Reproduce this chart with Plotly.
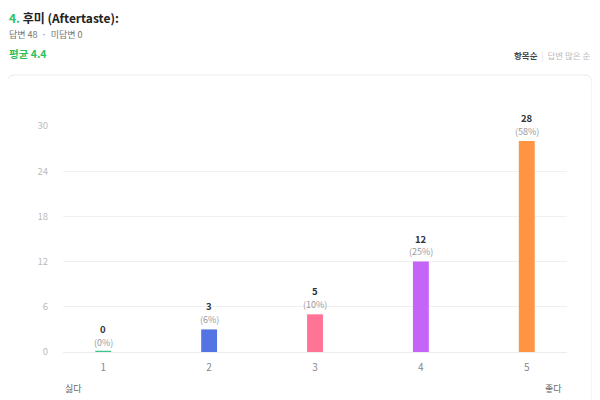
import plotly.graph_objects as go

scores = [1, 2, 3, 4, 5]
counts = [0, 3, 5, 12, 28]
colors = ['#3fc48c', '#5574e4', '#ff7396', '#c565f7', '#ff9443']
y_ticks = [0, 6, 12, 18, 24, 30]
total = 48
n_missing = 0
average = 4.4

FONT = 'Noto Sans CJK KR'

# page shows the figure 8px in from the top-left corner
OFF = 8
# plot area in page pixels: x 63..567, y 126..352
L, R, T, B = 63, 567, 126, 352


def px(p):
    return (p - L) / (R - L)


def py(p):
    return (B - p) / (B - T)


pct = [round(c / total * 100) for c in counts]

fig = go.Figure()
fig.add_trace(go.Bar(
    x=scores, y=counts, width=0.15,
    marker=dict(color=colors, line=dict(width=0)),
    hoverinfo='skip', cliponaxis=False,
))

# zero answers still get a thin stub on the baseline
for s, c, col in zip(scores, counts, colors):
    if c == 0:
        fig.add_shape(type='line', x0=s - 0.075, x1=s + 0.075, y0=0, y1=0,
                      line=dict(color=col, width=2.5), layer='above')

# value labels above the bars
for s, c, p in zip(scores, counts, pct):
    fig.add_annotation(x=s, y=c, text='<b>%d</b>' % c, showarrow=False, borderpad=0,
                       yanchor='middle', yshift=23, font=dict(size=9.5, color='#333', family=FONT))
    fig.add_annotation(x=s, y=c, text='(%d%%)' % p, showarrow=False, borderpad=0,
                       yanchor='middle', yshift=10, font=dict(size=9, color='#999', family=FONT))

# header
fig.add_annotation(xref='paper', yref='paper', x=px(7), y=py(17), xanchor='left', yanchor='middle',
                   text="<span style='color:#2cc35f'>4.</span> 후미 (Aftertaste):", showarrow=False,
                   font=dict(size=12, color='#222', family=FONT, weight='bold'))
fig.add_annotation(xref='paper', yref='paper', x=px(7), y=py(34), xanchor='left', yanchor='middle',
                   text='답변 %d  ·  미답변 %d' % (total, n_missing), showarrow=False,
                   font=dict(size=9, color='#777', family=FONT))
fig.add_annotation(xref='paper', yref='paper', x=px(7), y=py(53), xanchor='left', yanchor='middle',
                   text='<b>평균 %.1f</b>' % average, showarrow=False,
                   font=dict(size=10.5, color='#2cc35f', family=FONT))
fig.add_annotation(xref='paper', yref='paper', x=px(592), y=py(55), xanchor='right', yanchor='middle',
                   text="<b>항목순</b>  <span style='color:#ddd'>|</span>  <span style='color:#bbb'>답변 많은 순</span>",
                   showarrow=False, font=dict(size=8.5, color='#444', family=FONT))

# axis end labels
fig.add_annotation(xref='paper', yref='paper', x=px(73), y=py(388), xanchor='center', yanchor='middle',
                   text='싫다', showarrow=False, font=dict(size=9, color='#666', family=FONT))
fig.add_annotation(xref='paper', yref='paper', x=px(553), y=py(388), xanchor='center', yanchor='middle',
                   text='좋다', showarrow=False, font=dict(size=9, color='#666', family=FONT))

# card background with rounded corners
x0, x1, y0, y1, r = 7, 592, 75, 420, 8
rx, ry = r / (R - L), r / (B - T)
path = ('M %f,%f L %f,%f Q %f,%f %f,%f L %f,%f Q %f,%f %f,%f L %f,%f Z'
        % (px(x0), py(y1), px(x0), py(y0) - ry, px(x0), py(y0), px(x0) + rx, py(y0),
           px(x1) - rx, py(y0), px(x1), py(y0), px(x1), py(y0) - ry, px(x1), py(y1)))
fig.add_shape(type='path', xref='paper', yref='paper', path=path,
              line=dict(color='#ececec', width=1), fillcolor='white', layer='below')

fig.update_layout(
    width=600 - OFF, height=400 - OFF,
    margin=dict(l=L - OFF, r=600 - R, t=T - OFF, b=400 - B),
    paper_bgcolor='white', plot_bgcolor='rgba(0,0,0,0)',
    showlegend=False,
    font=dict(family=FONT),
    xaxis=dict(range=[0.62, 5.38], tickvals=scores, showgrid=False, zeroline=False,
               showline=False, ticks='', tickfont=dict(size=10, color='#888'), ticklabelstandoff=8),
    yaxis=dict(range=[0, 30], tickvals=y_ticks, showgrid=True, gridcolor='#f0f0f0', gridwidth=1,
               zeroline=True, zerolinecolor='#ececec', zerolinewidth=1, showline=False,
               tickfont=dict(size=9.5, color='#bbb'), ticklabelstandoff=14),
)

fig.write_html('out.html')
